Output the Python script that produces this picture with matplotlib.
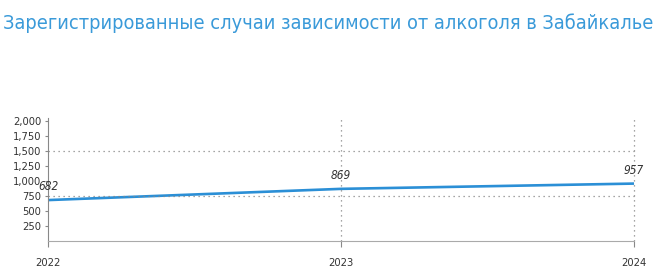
import matplotlib
matplotlib.use("Agg")
import matplotlib.pyplot as plt

years = [2022, 2023, 2024]
values = [682, 869, 957]
yticks = [250, 500, 750, 1000, 1250, 1500, 1750, 2000]
ytick_labels = ["250", "500", "750", "1,000", "1,250", "1,500", "1,750", "2,000"]
title = "Зарегистрированные случаи зависимости от алкоголя в Забайкалье"

fig = plt.figure(figsize=(6.56, 2.68), dpi=100)
ax = fig.add_axes([48/656, 27/268, 1 - 48/656, 123/268])
ax.set_xlim(2022, 2024 + 22/293)
ax.set_ylim(0, 2050)

ax.plot(years, values, color="#2b8fd6", lw=1.9, solid_capstyle="butt", clip_on=False)

for x, v in zip(years, values):
    ax.text(x, v + 110, f"{v}", ha="center", va="bottom", fontsize=8.5, style="italic",
            color="#333333", fontstretch="condensed")

for y in [750, 1500]:
    ax.axhline(y, xmax=(2024 - 2022) / (2024 + 22/293 - 2022), color="#888888", ls=(0, (1, 3)), lw=0.9)
for x in [2023, 2024]:
    ax.axvline(x, color="#888888", ls=(0, (1, 3)), lw=0.9)

for s in ["top", "right"]:
    ax.spines[s].set_visible(False)
ax.spines["left"].set_color("#888888")
ax.spines["bottom"].set_color("#aaaaaa")
ax.spines["bottom"].set_bounds(2022, 2024)

ax.set_yticks(yticks)
ax.set_yticklabels(ytick_labels, fontsize=8, color="#333333", fontstretch="condensed")
ax.set_xticks(years)
ax.set_xticklabels([str(y) for y in years], fontsize=8, color="#333333", fontstretch="condensed")
ax.tick_params(axis="y", length=2, color="#888888", pad=3)
ax.tick_params(axis="x", length=4, color="#888888", pad=8)

fig.text(0.005, 0.915, title, fontsize=14.3, color="#3a9ad9", fontstretch="condensed",
         ha="left", va="center")

fig.savefig("out.png", dpi=100)
